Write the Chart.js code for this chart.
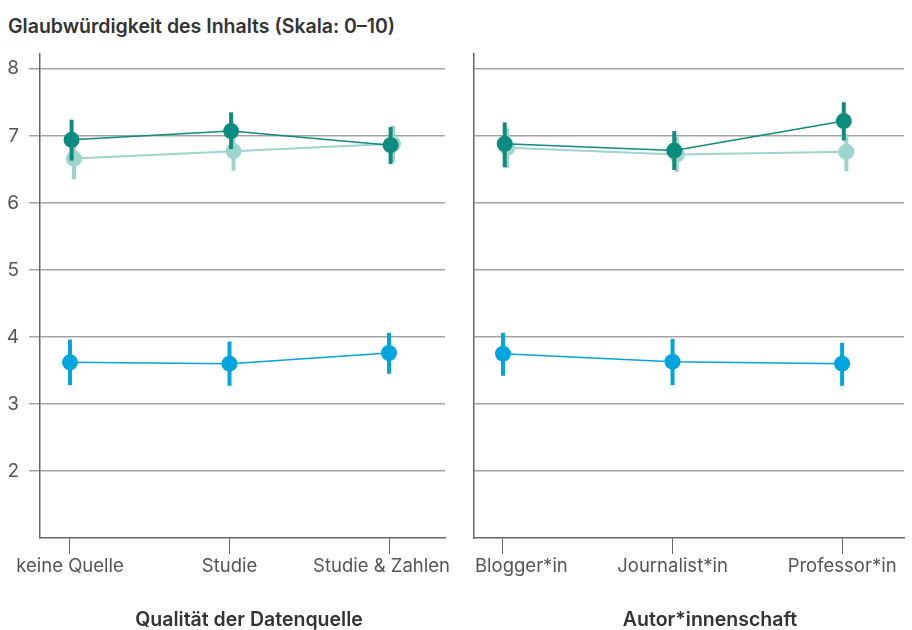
<!DOCTYPE html>
<html lang="de">
<head>
<meta charset="utf-8">
<script src="https://cdn.jsdelivr.net/npm/chart.js@4/dist/chart.umd.min.js"></script>
<style>
    body { margin: 0; background: #fff; font-family: Inter, "Liberation Sans", sans-serif; }
    #title { position: absolute; left: 8px; top: 14px; font-size: 19.5px; font-weight: 600; color: #333; white-space: nowrap; }
    .panel { position: absolute; top: 0; height: 630px; }
    .axis-title { position: absolute; top: 607px; width: 400px; text-align: center; font-size: 19.5px; font-weight: 600; color: #333; white-space: nowrap; }
</style>
</head>
<body>
<div id="title">Glaubwürdigkeit des Inhalts (Skala: 0–10)</div>
<div class="panel" style="left:0;width:470px"><canvas id="chart-quelle"></canvas></div>
<div class="panel" style="left:440px;width:472px"><canvas id="chart-autor"></canvas></div>
<div class="axis-title" style="left:49px">Qualität der Datenquelle</div>
<div class="axis-title" style="left:510px">Autor*innenschaft</div>
<script>
// === DATEN ===
const quelleCats = ['keine Quelle', 'Studie', 'Studie & Zahlen'];
const autorCats = ['Blogger*in', 'Journalist*in', 'Professor*in'];
const yTicks = [2, 3, 4, 5, 6, 7, 8];

// dunkles Türkis
const quelleDark = [6.94, 7.07, 6.86];
const quelleDarkLo = [6.63, 6.80, 6.58];
const quelleDarkHi = [7.24, 7.35, 7.13];
// helles Türkis
const quelleLight = [6.66, 6.77, 6.88];
const quelleLightLo = [6.35, 6.48, 6.60];
const quelleLightHi = [6.97, 7.06, 7.15];
// Blau
const quelleBlue = [3.62, 3.60, 3.76];
const quelleBlueLo = [3.28, 3.27, 3.45];
const quelleBlueHi = [3.96, 3.93, 4.06];

const autorDark = [6.88, 6.78, 7.22];
const autorDarkLo = [6.53, 6.49, 6.93];
const autorDarkHi = [7.20, 7.07, 7.50];
const autorLight = [6.82, 6.72, 6.76];
const autorLightLo = [6.52, 6.46, 6.47];
const autorLightHi = [7.11, 6.98, 7.03];
const autorBlue = [3.75, 3.63, 3.60];
const autorBlueLo = [3.42, 3.28, 3.27];
const autorBlueHi = [4.06, 3.97, 3.91];

// === STIL ===
const COLOR_DARK = '#0b8c7e';
const COLOR_LIGHT = '#9dd5cc';
const COLOR_BLUE = '#00a5de';
const FONT = 'Inter, "Liberation Sans", sans-serif';

// Fehlerbalken über die y-Skala der Library zeichnen
const errorBars = {
    id: 'errorBars',
    afterDatasetDraw(chart, args) {
        const ds = chart.data.datasets[args.index];
        const yScale = chart.scales.y;
        const ctx = chart.ctx;
        ctx.save();
        ctx.strokeStyle = ds.borderColor;
        ctx.lineWidth = 4;
        ds.data.forEach((pt, i) => {
            const el = args.meta.data[i];
            ctx.beginPath();
            ctx.moveTo(el.x, yScale.getPixelForValue(pt.lo));
            ctx.lineTo(el.x, yScale.getPixelForValue(pt.hi));
            ctx.stroke();
        });
        ctx.restore();
    }
};

// Kategorie-Beschriftungen: an den Ticks zentriert, aber im Panel gehalten
const catLabels = {
    id: 'catLabels',
    afterDraw(chart, args, opts) {
        const xScale = chart.scales.x;
        const area = chart.chartArea;
        const ctx = chart.ctx;
        ctx.save();
        ctx.font = `18.5px ${FONT}`;
        ctx.fillStyle = '#555';
        ctx.textAlign = 'left';
        ctx.textBaseline = 'top';
        xScale.ticks.forEach((t, i) => {
            const label = opts.cats[i];
            const w = ctx.measureText(label).width;
            let left = xScale.getPixelForValue(t.value) - w / 2;
            if (opts.clampLeft) left = Math.max(left, area.left + 1);
            left = Math.min(left, area.right + 5 - w);
            ctx.fillText(label, left, area.bottom + 19);
        });
        ctx.restore();
    }
};

const toPoints = (vals, lo, hi, dodge) =>
    vals.map((v, i) => ({ x: i + 1 + dodge, y: v, lo: lo[i], hi: hi[i] }));

const makeDataset = (vals, lo, hi, color, dodge, order, lineWidth) => ({
    data: toPoints(vals, lo, hi, dodge),
    borderColor: color,
    backgroundColor: color,
    pointBackgroundColor: color,
    pointBorderWidth: 0,
    pointRadius: 8,
    borderWidth: lineWidth,
    showLine: true,
    tension: 0,
    order: order
});

const buildChart = (canvasId, cats, series, opts) => {
    const ctx = document.getElementById(canvasId).getContext('2d');
    return new Chart(ctx, {
        type: 'scatter',
        data: {
            datasets: series
        },
        plugins: [errorBars, catLabels],
        options: {
            responsive: true,
            maintainAspectRatio: false,
            animation: false,
            layout: { padding: opts.padding },
            plugins: {
                legend: { display: false },
                tooltip: { enabled: false },
                catLabels: { cats: cats, clampLeft: opts.clampLeft }
            },
            scales: {
                x: {
                    type: 'linear',
                    min: opts.xMin,
                    max: opts.xMax,
                    afterBuildTicks: (scale) => {
                        scale.ticks = cats.map((c, i) => ({ value: i + 1 }));
                    },
                    afterFit: (scale) => { scale.height = 92; },
                    ticks: {
                        display: false,
                        autoSkip: false
                    },
                    grid: {
                        drawOnChartArea: false,
                        drawTicks: true,
                        tickLength: 16,
                        tickColor: '#666',
                        tickWidth: 1
                    },
                    border: { color: '#666', width: 1.5 }
                },
                y: {
                    min: 1,
                    max: 8.22,
                    afterBuildTicks: (scale) => {
                        scale.ticks = yTicks.map(v => ({ value: v }));
                    },
                    afterFit: (scale) => { scale.width = opts.yWidth; },
                    ticks: {
                        display: opts.showYLabels,
                        padding: 10,
                        color: '#555',
                        font: { family: FONT, size: 19 }
                    },
                    grid: {
                        color: '#a3a3a3',
                        lineWidth: 1.5,
                        drawTicks: opts.showYLabels,
                        tickLength: 11
                    },
                    border: { color: '#666', width: 1.5 }
                }
            }
        }
    });
};

// dunkel oben, dann Blau, hell unten
buildChart('chart-quelle', quelleCats, [
    makeDataset(quelleDark, quelleDarkLo, quelleDarkHi, COLOR_DARK, 0.01, 1, 1.5),
    makeDataset(quelleBlue, quelleBlueLo, quelleBlueHi, COLOR_BLUE, 0, 2, 1.5),
    makeDataset(quelleLight, quelleLightLo, quelleLightHi, COLOR_LIGHT, 0.025, 3, 2)
], {
    xMin: 0.812, xMax: 3.351,
    padding: { left: 0, right: 25, top: 54, bottom: 0 },
    yWidth: 40,
    showYLabels: true,
    clampLeft: false
});

buildChart('chart-autor', autorCats, [
    makeDataset(autorDark, autorDarkLo, autorDarkHi, COLOR_DARK, 0.01, 1, 1.5),
    makeDataset(autorBlue, autorBlueLo, autorBlueHi, COLOR_BLUE, 0, 2, 1.5),
    makeDataset(autorLight, autorLightLo, autorLightHi, COLOR_LIGHT, 0.025, 3, 2)
], {
    xMin: 0.829, xMax: 3.365,
    padding: { left: 0, right: 7, top: 54, bottom: 0 },
    yWidth: 34,
    showYLabels: false,
    clampLeft: true
});
</script>
</body>
</html>
